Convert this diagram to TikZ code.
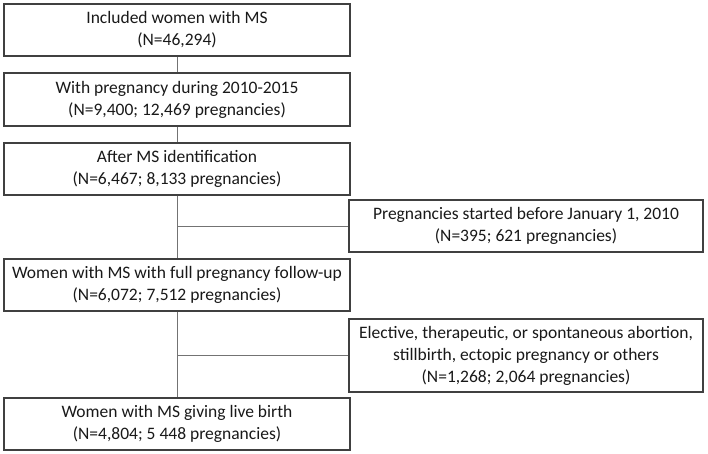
\documentclass[tikz,border=0pt]{standalone}
\usepackage{fontspec}
\setmainfont{Carlito}
\begin{document}
\begin{tikzpicture}[x=1pt,y=-1pt,
  box/.style={draw=black!75, line width=1.2pt, fill=white, inner sep=0pt, align=center,
    font=\fontsize{17.5}{22}\selectfont, text=black!90},
  mainbox/.style={box, minimum width=346pt, minimum height=52pt},
  sidebox/.style={box, minimum width=354pt},
  conn/.style={draw=black!55, line width=0.9pt}]
\useasboundingbox (0,0) rectangle (708,453);
\node[mainbox] (b1) at (177,30) {Included women with MS\\(N=46,294)};
\node[mainbox, minimum height=53pt] (b2) at (177,99.5) {With pregnancy during 2010-2015\\(N=9,400; 12,469 pregnancies)};
\node[mainbox] (b3) at (177,169) {After MS identification\\(N=6,467; 8,133 pregnancies)};
\node[sidebox, minimum height=52pt] (r1) at (526,226) {Pregnancies started before January 1, 2010\\(N=395; 621 pregnancies)};
\node[mainbox] (b4) at (177,285) {Women with MS with full pregnancy follow-up\\(N=6,072; 7,512 pregnancies)};
\node[sidebox, minimum height=73pt] (r2) at (526,355.5) {Elective, therapeutic, or spontaneous abortion,\\stillbirth, ectopic pregnancy or others\\(N=1,268; 2,064 pregnancies)};
\node[mainbox] (b5) at (177,424) {Women with MS giving live birth\\(N=4,804; 5 448 pregnancies)};
\coordinate (j1) at (b3.south |- r1.west);
\coordinate (j2) at (b4.south |- r2.west);
\draw[conn] (b1.south) -- (b2.north);
\draw[conn] (b2.south) -- (b3.north);
\draw[conn] (b3.south) -- (b4.north);
\draw[conn] (b4.south) -- (b5.north);
\draw[conn] (j1) -- (r1.west);
\draw[conn] (j2) -- (r2.west);
\end{tikzpicture}
\end{document}
